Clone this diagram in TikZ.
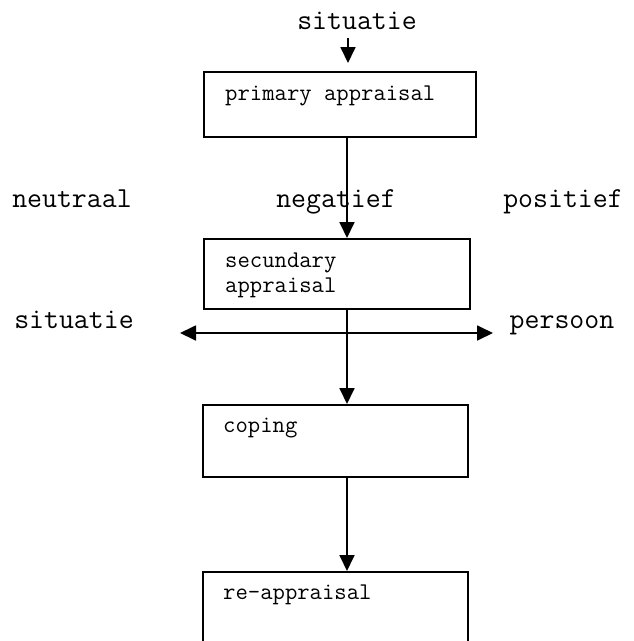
\documentclass[tikz,border=0pt]{standalone}
\usepackage{fontspec}
\usetikzlibrary{arrows.meta,calc}
\begin{document}
\begin{tikzpicture}[x=1pt,y=-1pt,
  box/.style={draw,line width=1.8pt,rectangle,inner sep=0pt,anchor=north west},
  boxtext/.style={font=\ttfamily\fontsize{24}{25}\selectfont,anchor=base west,inner sep=0pt,align=left},
  lab/.style={font=\ttfamily\fontsize{29}{30}\selectfont,inner sep=0pt,anchor=base},
  arr/.style={line width=1.8pt,-{Triangle[length=16pt,width=15pt]}},
  darr/.style={line width=1.8pt,{Triangle[length=16pt,width=15pt]}-{Triangle[length=16pt,width=15pt]}}]
\useasboundingbox (0,0) rectangle (633,641);
\clip (0,0) rectangle (633,641);
\coordinate (spine) at (347,0);
% labels
\node[lab] (sit1) at (357,29) {situatie};
\node[lab] (neu) at (72,207) {neutraal};
\node[lab] (neg) at (336,207) {negatief};
\node[lab] (pos) at (563,207) {positief};
\node[lab] (sit2) at (74,328) {situatie};
\node[lab] (pers) at (562,328) {persoon};
% boxes
\node[box,minimum width=272pt,minimum height=65pt] (p) at (203,71) {};
\node[boxtext] (pt) at ($(p.north west)+(22,29)$) {primary appraisal};
\node[box,minimum width=266pt,minimum height=70pt] (s) at (203,238) {};
\node[boxtext] (st) at ($(s.north west)+(22,54)$) {secundary\\appraisal};
\node[box,minimum width=265pt,minimum height=72pt] (c) at (202,404) {};
\node[boxtext] (ct) at ($(c.north west)+(21,28)$) {coping};
\node[box,minimum width=265pt,minimum height=90pt] (r) at (202,571) {};
\node[boxtext] (rt) at ($(r.north west)+(21,28)$) {re-appraisal};
% connectors
\coordinate (a0) at (348,38);
\coordinate (a1) at (348,63);
\draw[arr] (a0) -- (a1);
\draw[arr] (spine |- p.south) -- (spine |- s.north);
\draw[arr] (spine |- s.south) -- (spine |- c.north);
\draw[arr] (spine |- c.south) -- (spine |- r.north);
\coordinate (hl) at (180,333);
\coordinate (hr) at (493,333);
\draw[darr] (hl) -- (hr);
\end{tikzpicture}
\end{document}
